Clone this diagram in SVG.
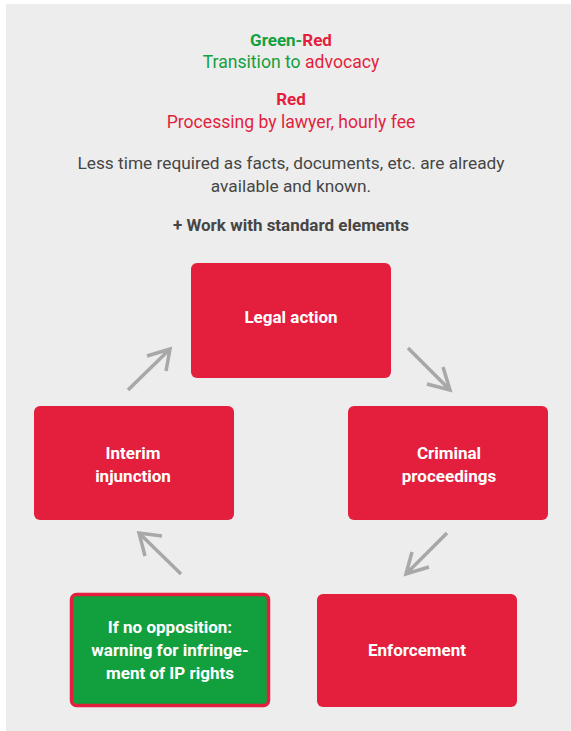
<svg xmlns="http://www.w3.org/2000/svg" width="571" height="731" viewBox="0 0 571 731">
<style>
.t{font-family:Roboto,"Liberation Sans",sans-serif;font-size:17.3px;text-anchor:middle}
.b{font-weight:bold;font-size:17px}
.w{fill:#ffffff;font-weight:bold;font-size:17px}
.red{fill:#e31f3d}
.grn{fill:#13a03f}
.gry{fill:#464646}
.box{fill:#e31f3d}
.arr{fill:none;stroke:#a8a8a8;stroke-width:3.5;stroke-linecap:butt;stroke-linejoin:miter}
</style>
<rect x="6" y="4" width="565" height="727" fill="#ededed"/>
<g id="header">
<text class="t b" x="291" y="46"><tspan class="grn">Green-</tspan><tspan class="red">Red</tspan></text>
<text class="t" x="291" y="68" style="font-size:17.6px"><tspan class="grn">Transition to </tspan><tspan class="red">advocacy</tspan></text>
<text class="t b red" x="291" y="105">Red</text>
<text class="t red" x="291" y="128" style="font-size:17.6px">Processing by lawyer, hourly fee</text>
<text class="t gry" x="291" y="169">Less time required as facts, documents, etc. are already</text>
<text class="t gry" x="291" y="192">available and known.</text>
<text class="t b gry" x="291" y="231">+ Work with standard elements</text>
</g>
<g id="legal-action">
<rect class="box" x="191" y="263" width="200" height="115" rx="6"/>
<text class="t w" x="291" y="323">Legal action</text>
</g>
<g id="interim-injunction">
<rect class="box" x="34" y="406" width="200" height="114" rx="6"/>
<text class="t w" x="133" y="459">Interim</text>
<text class="t w" x="133" y="482">injunction</text>
</g>
<g id="criminal-proceedings">
<rect class="box" x="348" y="406" width="200" height="114" rx="6"/>
<text class="t w" x="449" y="459">Criminal</text>
<text class="t w" x="449" y="482">proceedings</text>
</g>
<g id="warning">
<rect x="71.5" y="594.5" width="197" height="111" rx="5" fill="#12a03e" stroke="#e31f3d" stroke-width="3.5"/>
<text class="t w" x="170" y="633">If no opposition:</text>
<text class="t w" x="170" y="656">warning for infringe-</text>
<text class="t w" x="170" y="679">ment of IP rights</text>
</g>
<g id="enforcement">
<rect class="box" x="317" y="594" width="200" height="113" rx="6"/>
<text class="t w" x="417" y="656">Enforcement</text>
</g>
<g id="connectors">
<path class="arr" d="M128,390 L170,349 M147,356 L170,349 L166,371"/>
<path class="arr" d="M408,348 L450,390 M427,384 L450,390 L443,367"/>
<path class="arr" d="M447,533 L406,574 M412,552 L406,574 L429,567"/>
<path class="arr" d="M181,574 L139,533 M162,536 L139,533 L145,556"/>
</g>
</svg>
